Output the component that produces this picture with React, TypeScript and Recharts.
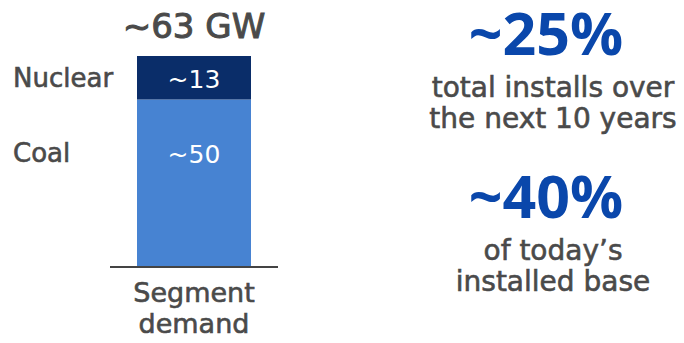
import { BarChart, Bar, XAxis, YAxis, LabelList } from "recharts";

// segment demand, GW
const categories = ["Segment demand"];
const coal = [50];
const nuclear = [13];
const seriesNames = ["Coal", "Nuclear"];

// callouts on the right
const shares = ["~25%", "~40%"];
const shareNotes = [
  ["total installs over", "the next 10 years"],
  ["of today\u2019s", "installed base"],
];

const GRAY = "#4a4a4a";
const BLUE = "#0a47ab";
const LIGHT = "#4783d2";
const NAVY = "#0a2d69";
const TEXT_FONT = "'DejaVu Sans', sans-serif";
const BIG_FONT = "'Open Sans', sans-serif";

// thin outline to give the book weight a medium look
const medium = { stroke: GRAY, strokeWidth: 0.6 };

const data = categories.map((c, i) => ({
  segment: c,
  coal: coal[i],
  nuclear: nuclear[i],
  total: coal[i] + nuclear[i],
}));

function SegmentTick({ x, y, payload }: any) {
  const words = String(payload.value).split(" ");
  return (
    <text x={x} y={y} textAnchor="middle" fill={GRAY} {...medium} fontSize={27} fontFamily={TEXT_FONT}>
      {words.map((w, i) => (
        <tspan key={w} x={x} dy={i === 0 ? 27 : 31}>
          {w}
        </tspan>
      ))}
    </text>
  );
}

// inner value + name on the left; offset is baseline distance from the segment top
function segmentLabel(name: string, offset: number) {
  return (props: any) => {
    const { x, y, width, height, value } = props;
    const base = offset > 0 ? y + offset : y + height / 2 + 10;
    return (
      <g>
        <text x={x + width / 2} y={base} textAnchor="middle" fill="#fff" fontSize={25} fontFamily={TEXT_FONT}>
          {`~${value}`}
        </text>
        <text x={x - 124} y={base - 1} fill={GRAY} {...medium} fontSize={26} fontFamily={TEXT_FONT}>
          {name}
        </text>
      </g>
    );
  };
}

function TotalLabel(props: any) {
  const { x, y, width, index } = props;
  return (
    <text
      x={x + width / 2}
      y={y - 18}
      textAnchor="middle"
      fill={GRAY}
      stroke={GRAY}
      strokeWidth={1}
      fontSize={34}
      fontFamily={TEXT_FONT}
    >
      {`~${data[index].total} GW`}
    </text>
  );
}

export default function App() {
  return (
    <div style={{ position: "absolute", left: 0, top: 0, width: 684, height: 343, background: "#fff" }}>
      <BarChart
        width={684}
        height={343}
        data={data}
        margin={{ top: 56, right: 406, bottom: 0, left: 110 }}
      >
        <YAxis hide domain={[0, 63]} />
        <XAxis
          dataKey="segment"
          height={76}
          tickLine={false}
          axisLine={{ stroke: "#444", strokeWidth: 2 }}
          tick={<SegmentTick />}
          interval={0}
        />
        <Bar dataKey="coal" name={seriesNames[0]} stackId="a" fill={LIGHT} barSize={114} isAnimationActive={false}>
          <LabelList dataKey="coal" content={segmentLabel(seriesNames[0], 63)} />
        </Bar>
        <Bar dataKey="nuclear" name={seriesNames[1]} stackId="a" fill={NAVY} barSize={114} isAnimationActive={false}>
          <LabelList dataKey="nuclear" content={segmentLabel(seriesNames[1], 0)} />
          <LabelList dataKey="nuclear" content={TotalLabel} />
        </Bar>
      </BarChart>
      <svg width={684} height={343} style={{ position: "absolute", left: 0, top: 0, pointerEvents: "none" }}>
        {shares.map((s, i) => {
          const top = i === 0 ? 55 : 218;
          return (
            <g key={s}>
              <text x={546} y={top} textAnchor="middle" fill={BLUE} fontSize={59} fontWeight={700} fontFamily={BIG_FONT}>
                {s}
              </text>
              {shareNotes[i].map((line, j) => (
                <text
                  key={line}
                  x={553}
                  y={top + 42 + j * 31}
                  textAnchor="middle"
                  fill={GRAY}
                  {...medium}
                  fontSize={28}
                  fontFamily={TEXT_FONT}
                >
                  {line}
                </text>
              ))}
            </g>
          );
        })}
      </svg>
    </div>
  );
}
